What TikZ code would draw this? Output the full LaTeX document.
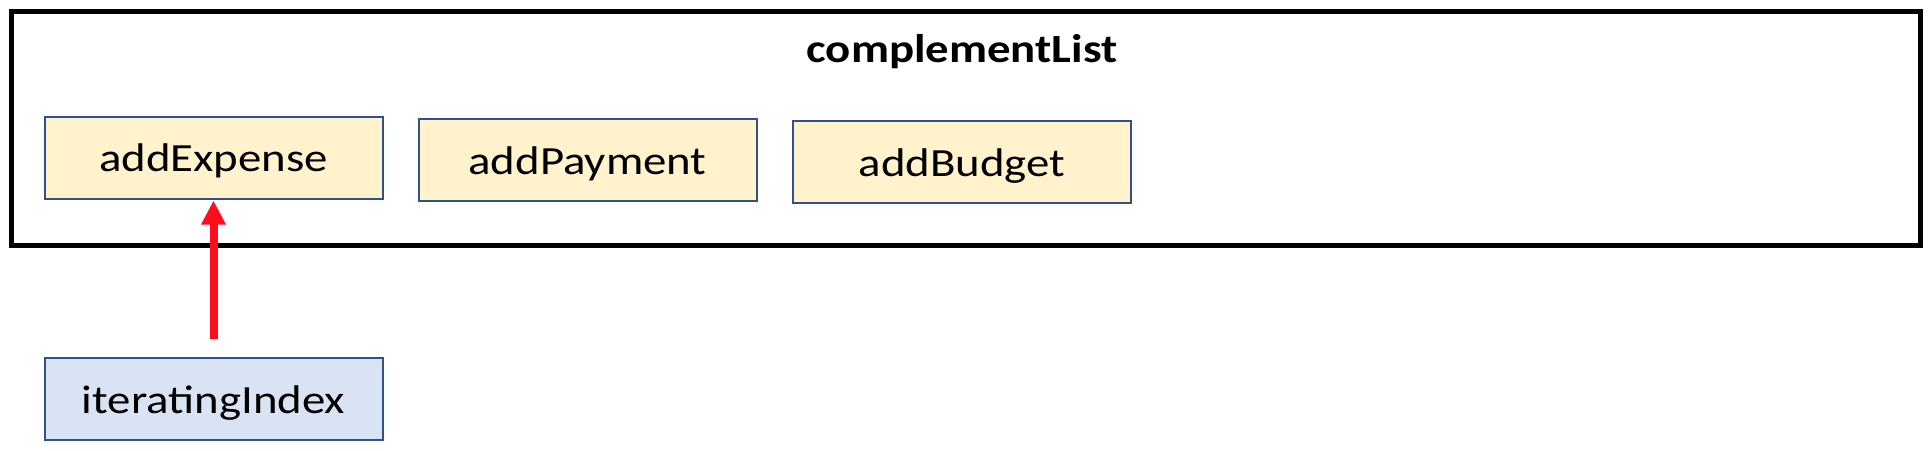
\documentclass[tikz,border=0pt]{standalone}
\usepackage{fontspec}
\setmainfont{Carlito}
\usetikzlibrary{arrows.meta}
\definecolor{boxyellow}{HTML}{FFF2CC}
\definecolor{boxblue}{HTML}{DAE3F3}
\definecolor{boxedge}{HTML}{2F528F}
\definecolor{arrowred}{HTML}{FF0D1F}
\newcommand{\wide}[1]{\scalebox{1.17}[1]{#1}}
\tikzset{
  frame/.style={draw=black, line width=5pt, minimum width=1909pt, minimum height=234pt, inner sep=0pt},
  itembox/.style={draw=boxedge, line width=2pt, minimum width=338pt, minimum height=82pt,
    inner sep=0pt, text height=37pt, text depth=9pt, font=\fontsize{40}{48}\selectfont},
  yellowbox/.style={itembox, fill=boxyellow},
  bluebox/.style={itembox, fill=boxblue},
  titletext/.style={inner sep=0pt, anchor=base, font=\fontsize{40}{48}\selectfont\bfseries},
  redarrow/.style={draw=arrowred, line width=8pt, -{Triangle[width=23pt,length=24pt]}}
}
\begin{document}
\begin{tikzpicture}[x=1pt,y=-1pt]
\useasboundingbox (0,0) rectangle (1930,450);
\node[frame] (outer) at (965.5,128) {};
\node[titletext] (title) at (962,62) {\wide{complementList}};
\node[yellowbox] (ae) at (213.5,157.5) {\wide{addExpense}};
\node[yellowbox] (ap) at (587.5,160) {\wide{addPayment}};
\node[yellowbox] (ab) at (962,162) {\wide{addBudget}};
\node[bluebox] (ii) at (213.5,399) {\wide{iteratingIndex}};
\draw[redarrow, shorten <=18pt, shorten >=1pt] (ii.north) -- (ae.south);
\end{tikzpicture}
\end{document}
